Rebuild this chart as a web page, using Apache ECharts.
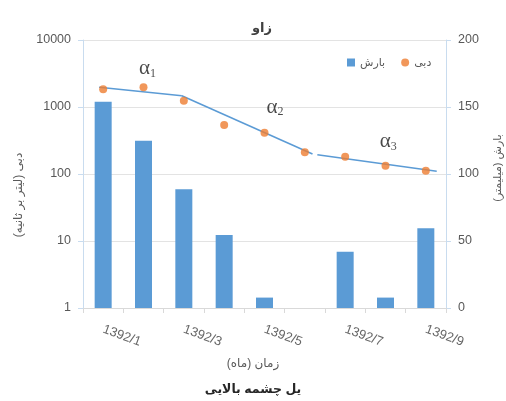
<!DOCTYPE html>
<html>
<head>
<meta charset="utf-8">
<script src="https://cdn.jsdelivr.net/npm/echarts@6/dist/echarts.min.js"></script>
<style>
  html, body { margin: 0; padding: 0; background: #fff; }
  #chart { width: 506px; height: 401px; }
</style>
</head>
<body>
<div id="chart"></div>
<script>
// Months of the record
const months = ['1392/1', '1392/2', '1392/3', '1392/4', '1392/5', '1392/6', '1392/7', '1392/8', '1392/9'];
// Bar series (بارش)
const rainfall = [1200, 314, 59, 12.3, 1.43, null, 6.9, 1.43, 15.5];
// Point series (دبی)
const discharge = [163.2, 164.7, 154.7, 136.6, 130.8, 116.2, 112.9, 106.2, 102.5];
// Recession segments, [month position, value]
const segment1 = [[-0.1, 164.7], [1.95, 158.4]];
const segment2 = [[1.95, 158.4], [5.19, 114.9]];
const segment3 = [[5.31, 114.4], [8.27, 102.0]];
// Segment labels and where they sit
const segmentNames = ['1', '2', '3'];
const segmentLabelPos = [[1.10, 178.4], [4.26, 150.0], [7.07, 123.9]];
// Axis ticks
const leftTicks = [1, 10, 100, 1000, 10000];
const rightTicks = [0, 50, 100, 150, 200];

const FONT = '"Liberation Sans", "DejaVu Sans", sans-serif';
const GREY = '#595959';

const chart = echarts.init(document.getElementById('chart'), null, { renderer: 'canvas' });

chart.setOption({
  animation: false,
  backgroundColor: '#ffffff',
  textStyle: { fontFamily: FONT },
  title: [
    {
      text: 'زاو', left: 257, textAlign: 'center', top: 17,
      textStyle: { fontSize: 13, fontWeight: 'bold', color: '#404040', fontFamily: FONT }
    },
    {
      text: 'زمان (ماه)', left: 'center', top: 353,
      textStyle: { fontSize: 12, fontWeight: 'normal', color: GREY, fontFamily: FONT }
    },
    {
      text: 'یل چشمه بالایی', left: 248, textAlign: 'center', top: 378,
      textStyle: { fontSize: 12.5, fontWeight: 'bold', color: '#262626', fontFamily: FONT }
    }
  ],
  legend: {
    left: 342, top: 52,
    itemWidth: 8, itemHeight: 8, itemGap: 16,
    textStyle: { fontSize: 11, color: GREY, fontFamily: FONT },
    data: [
      { name: 'بارش', icon: 'rect' },
      { name: 'دبی', icon: 'circle' }
    ]
  },
  grid: { left: 83, right: 60, top: 40, bottom: 93, containLabel: false, outerBoundsMode: 'none' },
  xAxis: [
    {
      type: 'category',
      data: months,
      boundaryGap: true,
      axisLine: { lineStyle: { color: '#d9d9d9' } },
      axisTick: { show: true, interval: 0, length: 5, lineStyle: { color: '#d9d9d9' } },
      axisLabel: {
        interval: 1, rotate: -20, margin: 21,
        fontSize: 13, color: '#666666', fontFamily: FONT
      },
      splitLine: { show: false }
    },
    {
      type: 'value',
      min: -0.5, max: 8.5,
      show: false
    }
  ],
  yAxis: [
    {
      type: 'log',
      logBase: 10,
      min: leftTicks[0], max: leftTicks[leftTicks.length - 1],
      name: 'دبی (لیتر بر ثانیه)',
      nameLocation: 'middle', nameRotate: 90, nameGap: 58,
      nameTextStyle: { fontSize: 12, color: GREY, fontFamily: FONT, padding: [0, 42, 0, 0] },
      axisLine: { show: true, onZero: false, lineStyle: { color: '#c9dcef' } },
      axisTick: { show: true, length: 5, lineStyle: { color: '#c9dcef' } },
      axisLabel: { fontSize: 12.5, color: GREY, margin: 12, fontFamily: FONT, formatter: (v) => String(v) },
      splitLine: { show: true, lineStyle: { color: '#e3e3e3' } }
    },
    {
      type: 'value',
      min: rightTicks[0], max: rightTicks[rightTicks.length - 1], interval: 50,
      position: 'right',
      name: 'بارش (میلیمتر)',
      nameLocation: 'middle', nameRotate: 90, nameGap: 46,
      nameTextStyle: { fontSize: 11, color: GREY, fontFamily: FONT, padding: [0, 0, 0, 12] },
      axisLine: { show: true, onZero: false, lineStyle: { color: '#c9dcef' } },
      axisTick: { show: true, length: 5, lineStyle: { color: '#c9dcef' } },
      axisLabel: { fontSize: 12.5, color: GREY, margin: 12, fontFamily: FONT },
      splitLine: { show: false }
    }
  ],
  series: [
    {
      name: 'بارش',
      type: 'bar',
      xAxisIndex: 0, yAxisIndex: 0,
      data: rainfall,
      barWidth: 17,
      itemStyle: { color: '#5b9bd5' }
    },
    {
      name: 'trend1', type: 'line', xAxisIndex: 1, yAxisIndex: 1,
      data: segment1, symbol: 'none', lineStyle: { color: '#5b9bd5', width: 1.5 }, z: 3
    },
    {
      name: 'trend2', type: 'line', xAxisIndex: 1, yAxisIndex: 1,
      data: segment2, symbol: 'none', lineStyle: { color: '#5b9bd5', width: 1.5 }, z: 3
    },
    {
      name: 'trend3', type: 'line', xAxisIndex: 1, yAxisIndex: 1,
      data: segment3, symbol: 'none', lineStyle: { color: '#5b9bd5', width: 1.5 }, z: 3
    },
    {
      name: 'دبی',
      type: 'scatter',
      xAxisIndex: 0, yAxisIndex: 1,
      data: discharge,
      symbol: 'circle', symbolSize: 8,
      itemStyle: { color: '#ed7d31' },
      z: 4
    },
    {
      name: 'labels', type: 'scatter', xAxisIndex: 1, yAxisIndex: 1,
      data: segmentLabelPos.map((p, i) => ({ value: p, sub: segmentNames[i] })),
      symbolSize: 0, silent: true,
      label: {
        show: true, position: 'inside',
        formatter: (p) => '{a|α}{s|' + p.data.sub + '}',
        rich: {
          a: { fontSize: 21, fontFamily: '"Liberation Serif", "DejaVu Serif", serif', color: '#1a1a1a' },
          s: { fontSize: 12, fontFamily: '"Liberation Serif", "DejaVu Serif", serif', color: '#1a1a1a', verticalAlign: 'bottom', padding: [6, 0, 0, 0] }
        }
      }
    }
  ]
});
</script>
</body>
</html>
